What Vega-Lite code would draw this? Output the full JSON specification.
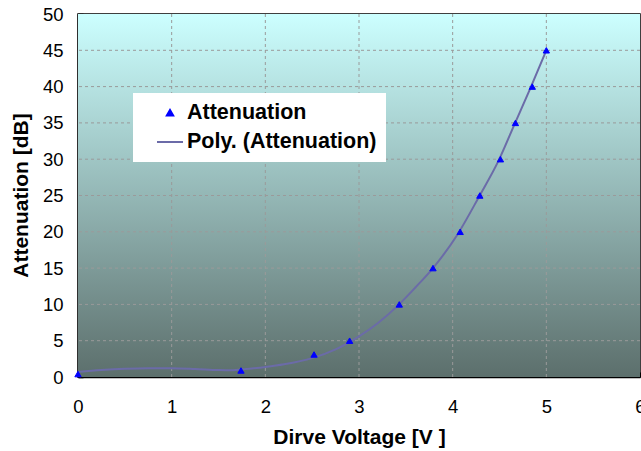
{
  "$schema": "https://vega.github.io/schema/vega-lite/v6.json",
  "width": 562,
  "height": 363,
  "autosize": {"type": "none"},
  "padding": {"left": 78, "top": 14, "right": 1, "bottom": 74},
  "background": "white",
  "config": {
    "font": "Liberation Sans",
    "view": {"stroke": "black", "strokeWidth": 1.5},
    "axis": {
      "domainColor": "black",
      "domainWidth": 1.5,
      "tickColor": "black",
      "tickWidth": 1.5,
      "tickSize": -5,
      "labelFont": "Liberation Sans",
      "labelFontSize": 18.5,
      "labelColor": "black",
      "labelFlush": false,
      "labelOverlap": false,
      "titleFont": "Liberation Sans",
      "titleFontSize": 21,
      "titleFontWeight": "bold",
      "titleColor": "black",
      "grid": false,
      "zindex": 1
    }
  },
  "datasets": {
    "points": [
      {"x": 0, "y": 0.4, "series": "Attenuation"},
      {"x": 1.74, "y": 0.9, "series": "Attenuation"},
      {"x": 2.52, "y": 3.1, "series": "Attenuation"},
      {"x": 2.9, "y": 5, "series": "Attenuation"},
      {"x": 3.43, "y": 10, "series": "Attenuation"},
      {"x": 3.79, "y": 15, "series": "Attenuation"},
      {"x": 4.08, "y": 20, "series": "Attenuation"},
      {"x": 4.29, "y": 25, "series": "Attenuation"},
      {"x": 4.51, "y": 30, "series": "Attenuation"},
      {"x": 4.67, "y": 35, "series": "Attenuation"},
      {"x": 4.85, "y": 40, "series": "Attenuation"},
      {"x": 5.0, "y": 45, "series": "Attenuation"}
    ],
    "trend": [
      {"x": 0, "y": 0.7, "series": "Poly. (Attenuation)"},
      {"x": 0.25, "y": 0.95, "series": "Poly. (Attenuation)"},
      {"x": 0.5, "y": 1.12, "series": "Poly. (Attenuation)"},
      {"x": 0.75, "y": 1.2, "series": "Poly. (Attenuation)"},
      {"x": 1.0, "y": 1.2, "series": "Poly. (Attenuation)"},
      {"x": 1.25, "y": 1.1, "series": "Poly. (Attenuation)"},
      {"x": 1.5, "y": 0.95, "series": "Poly. (Attenuation)"},
      {"x": 1.62, "y": 0.92, "series": "Poly. (Attenuation)"},
      {"x": 1.75, "y": 1.05, "series": "Poly. (Attenuation)"},
      {"x": 2.0, "y": 1.38, "series": "Poly. (Attenuation)"},
      {"x": 2.2, "y": 1.75, "series": "Poly. (Attenuation)"},
      {"x": 2.5, "y": 2.6, "series": "Poly. (Attenuation)"},
      {"x": 2.75, "y": 3.8, "series": "Poly. (Attenuation)"},
      {"x": 3.0, "y": 5.6, "series": "Poly. (Attenuation)"},
      {"x": 3.2, "y": 7.4, "series": "Poly. (Attenuation)"},
      {"x": 3.42, "y": 9.9, "series": "Poly. (Attenuation)"},
      {"x": 3.6, "y": 12.3, "series": "Poly. (Attenuation)"},
      {"x": 3.79, "y": 15.0, "series": "Poly. (Attenuation)"},
      {"x": 4.05, "y": 19.6, "series": "Poly. (Attenuation)"},
      {"x": 4.28, "y": 24.8, "series": "Poly. (Attenuation)"},
      {"x": 4.49, "y": 29.8, "series": "Poly. (Attenuation)"},
      {"x": 4.66, "y": 34.8, "series": "Poly. (Attenuation)"},
      {"x": 4.83, "y": 39.8, "series": "Poly. (Attenuation)"},
      {"x": 5.0, "y": 45.0, "series": "Poly. (Attenuation)"}
    ],
    "vgrid": [{"x": 1}, {"x": 2}, {"x": 3}, {"x": 4}, {"x": 5}],
    "hgrid": [{"y": 5}, {"y": 10}, {"y": 15}, {"y": 20}, {"y": 25}, {"y": 30}, {"y": 35}, {"y": 40}, {"y": 45}]
  },
  "layer": [
    {
      "data": {"values": [{"x0": 0, "x1": 6, "y0": 0, "y1": 50}]},
      "mark": {
        "type": "rect",
        "fill": {
          "gradient": "linear",
          "x1": 0, "y1": 0, "x2": 0, "y2": 1,
          "stops": [
            {"offset": 0, "color": "#CCFFFF"},
            {"offset": 1, "color": "#5C6F6C"}
          ]
        }
      },
      "encoding": {
        "x": {"field": "x0", "type": "quantitative", "scale": {"domain": [0, 6]},
          "axis": {"values": [0, 1, 2, 3, 4, 5, 6], "format": "d", "labelPadding": 25,
            "title": "Dirve Voltage [V ]", "titleX": 281, "titleY": 66, "titleBaseline": "alphabetic"}},
        "x2": {"field": "x1"},
        "y": {"field": "y0", "type": "quantitative", "scale": {"domain": [0, 50]},
          "axis": {"values": [0, 5, 10, 15, 20, 25, 30, 35, 40, 45, 50], "labelPadding": 20,
            "title": "Attenuation [dB]", "titleX": -51, "titleY": 181, "titleAngle": -90, "titleBaseline": "alphabetic"}},
        "y2": {"field": "y1"}
      }
    },
    {
      "data": {"name": "vgrid"},
      "mark": {"type": "rule", "color": "#9A9A9A", "strokeDash": [3, 3], "strokeWidth": 1},
      "encoding": {"x": {"field": "x", "type": "quantitative",
          "axis": {"values": [0, 1, 2, 3, 4, 5, 6], "format": "d", "labelPadding": 25,
            "title": "Dirve Voltage [V ]", "titleX": 281, "titleY": 66, "titleBaseline": "alphabetic"}}}
    },
    {
      "data": {"name": "hgrid"},
      "mark": {"type": "rule", "color": "#9A9A9A", "strokeDash": [3, 3], "strokeWidth": 1},
      "encoding": {"y": {"field": "y", "type": "quantitative",
          "axis": {"values": [0, 5, 10, 15, 20, 25, 30, 35, 40, 45, 50], "labelPadding": 20,
            "title": "Attenuation [dB]", "titleX": -51, "titleY": 181, "titleAngle": -90, "titleBaseline": "alphabetic"}}}
    },
    {
      "data": {"name": "trend"},
      "mark": {"type": "line", "strokeWidth": 2, "interpolate": "monotone"},
      "encoding": {
        "x": {"field": "x", "type": "quantitative",
          "axis": {"values": [0, 1, 2, 3, 4, 5, 6], "format": "d", "labelPadding": 25,
            "title": "Dirve Voltage [V ]", "titleX": 281, "titleY": 66, "titleBaseline": "alphabetic"}},
        "y": {"field": "y", "type": "quantitative",
          "axis": {"values": [0, 5, 10, 15, 20, 25, 30, 35, 40, 45, 50], "labelPadding": 20,
            "title": "Attenuation [dB]", "titleX": -51, "titleY": 181, "titleAngle": -90, "titleBaseline": "alphabetic"}},
        "color": {"field": "series", "type": "nominal"}
      }
    },
    {
      "data": {"name": "points"},
      "mark": {"type": "point", "filled": true, "strokeWidth": 1, "opacity": 1},
      "encoding": {
        "x": {"field": "x", "type": "quantitative",
          "axis": {"values": [0, 1, 2, 3, 4, 5, 6], "format": "d", "labelPadding": 25,
            "title": "Dirve Voltage [V ]", "titleX": 281, "titleY": 66, "titleBaseline": "alphabetic"}},
        "y": {"field": "y", "type": "quantitative",
          "axis": {"values": [0, 5, 10, 15, 20, 25, 30, 35, 40, 45, 50], "labelPadding": 20,
            "title": "Attenuation [dB]", "titleX": -51, "titleY": 181, "titleAngle": -90, "titleBaseline": "alphabetic"}},
        "shape": {"field": "series", "type": "nominal",
          "scale": {"domain": ["Attenuation", "Poly. (Attenuation)"], "range": ["triangle-up", "stroke"]}},
        "size": {"field": "series", "type": "nominal",
          "scale": {"domain": ["Attenuation", "Poly. (Attenuation)"], "range": [40, 676]}},
        "stroke": {"field": "series", "type": "nominal",
          "scale": {"domain": ["Attenuation", "Poly. (Attenuation)"], "range": ["#0000FF", "#6B6BA8"]}},
        "color": {
          "field": "series", "type": "nominal",
          "scale": {"domain": ["Attenuation", "Poly. (Attenuation)"], "range": ["#0000FF", "#6B6BA8"]},
          "legend": {
            "title": null,
            "orient": "none",
            "legendX": 55,
            "legendY": 79,
            "fillColor": "white",
            "padding": 9,
            "labelFont": "Liberation Sans",
            "labelFontSize": 21.5,
            "labelFontWeight": "bold",
            "labelColor": "black",
            "labelLimit": 400,
            "symbolStrokeWidth": 2,
            "symbolOffset": 14,
            "labelOffset": 3,
            "rowPadding": 4
          }
        }
      }
    }
  ]
}
